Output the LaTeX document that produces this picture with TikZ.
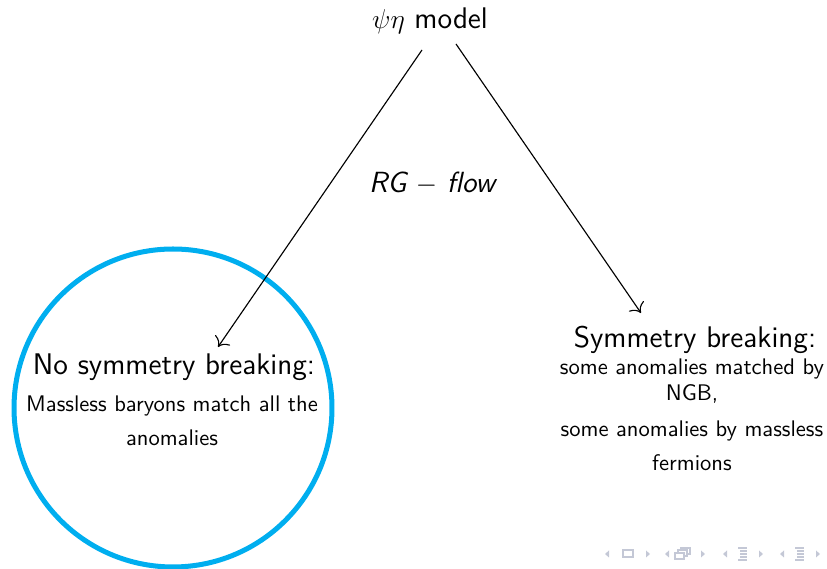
\documentclass[tikz,border=0pt]{standalone}
\usepackage{fontspec}
\usetikzlibrary{arrows.meta}
\definecolor{ringblue}{RGB}{0,174,239}
\definecolor{navgray}{RGB}{196,200,214}
\tikzset{
head/.style={font=\sffamily\fontsize{13.1}{15}\selectfont, anchor=base, inner sep=0pt},
rglabel/.style={font=\sffamily\itshape\fontsize{12.8}{15}\selectfont, anchor=base, inner sep=0pt},
body/.style={font=\sffamily\fontsize{9.9}{12}\selectfont, anchor=base, inner sep=0pt},
flow/.style={-{To[scale=1.4]}, line width=0.5pt},
ring/.style={draw=ringblue, line width=2.2pt},
nav/.style={fill=navgray, draw=none},
navline/.style={draw=navgray, line width=0.5pt}
}
\begin{document}
\begin{tikzpicture}[x=0.4389pt,y=0.4389pt]
\useasboundingbox (0,0) rectangle (827,569);
\node[head] (model) at (430,540) {$\psi\eta$ model};
\node[rglabel] (rg) at (432,376) {RG $-$ flow};
% left branch
\draw[ring] (173,161) circle[radius=69.78pt];
\node[head] (noSB) at (174,194) {No symmetry breaking:};
\node[body] (noSBa) at (172,157) {Massless baryons match all the};
\node[body] (noSBb) at (172,123) {anomalies};
% right branch
\node[head] (SB) at (695,221) {Symmetry breaking:};
\node[body] (SBa) at (692,194) {some anomalies matched by};
\node[body] (SBb) at (692,168) {NGB,};
\node[body] (SBc) at (692,132) {some anomalies by massless};
\node[body] (SBd) at (692,98) {fermions};
\coordinate (fromL) at (422,519);
\coordinate (toL) at (218,222);
\coordinate (fromR) at (456,525);
\coordinate (toR) at (641,256);
\draw[flow] (fromL)--(toL);
\draw[flow] (fromR)--(toR);
% navigation symbols
\fill[nav] (609,18.5)--(609,11.5)--(605,15)--cycle;
\draw[navline] (623,12) rectangle (633,19);
\fill[nav] (646,18.5)--(646,11.5)--(650,15)--cycle;
\fill[nav] (669,18.5)--(669,11.5)--(665,15)--cycle;
\draw[navline] (681,15) rectangle (690,21);
\draw[navline,fill=white] (678,13) rectangle (687,19);
\draw[navline,fill=white] (675,10) rectangle (684,16);
\fill[nav] (701,18.5)--(701,11.5)--(705,15)--cycle;
\fill[nav] (727,18.5)--(727,11.5)--(723,15)--cycle;
\draw[navline] (738,21)--(747,21) (740,18)--(747,18) (740,15)--(747,15) (740,12)--(747,12) (738,9)--(747,9);
\fill[nav] (759,18.5)--(759,11.5)--(763,15)--cycle;
\fill[nav] (784,18.5)--(784,11.5)--(780,15)--cycle;
\draw[navline] (795,21)--(804,21) (797,18)--(804,18) (797,15)--(804,15) (797,12)--(804,12) (795,9)--(804,9);
\fill[nav] (816,18.5)--(816,11.5)--(820,15)--cycle;
\end{tikzpicture}
\end{document}
